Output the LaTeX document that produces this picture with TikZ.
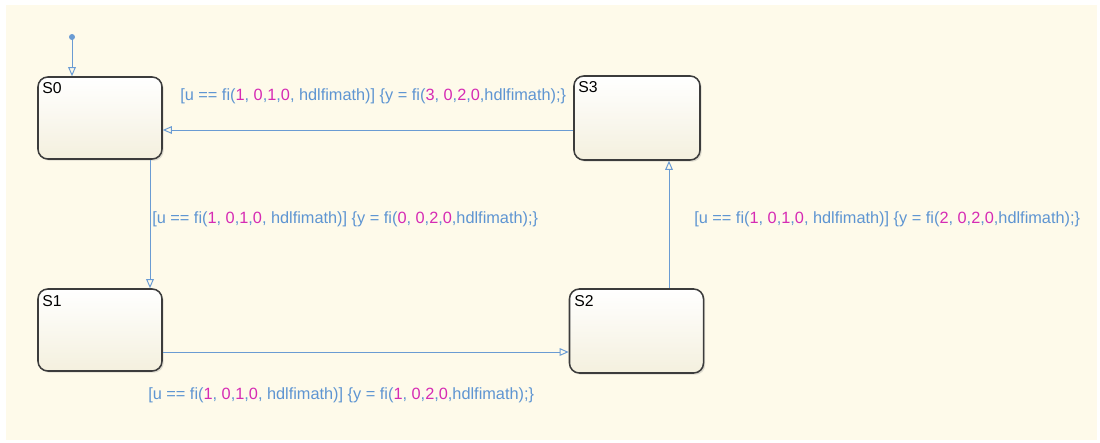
\documentclass[tikz,border=0pt]{standalone}
\usepackage{fontspec}
\setmainfont{Liberation Sans}
\usetikzlibrary{arrows.meta,shadows}
\definecolor{chartbg}{HTML}{FEFAEA}
\definecolor{statebot}{HTML}{F4F0DE}
\definecolor{statedraw}{HTML}{3C3C3C}
\definecolor{transcol}{HTML}{6A9BD3}
\definecolor{labcol}{HTML}{5E95D2}
\definecolor{numcol}{HTML}{D62BB4}
\newcommand{\mg}[1]{\textcolor{numcol}{#1}}

\begin{document}
\begin{tikzpicture}[x=0.025cm,y=-0.025cm,
  state/.style={draw=statedraw,line width=1.1pt,rounded corners=7pt,
    top color=white,bottom color=statebot,
    drop shadow={opacity=0.25,shadow xshift=1.2pt,shadow yshift=-1.2pt},
    inner sep=0pt},
  stname/.style={anchor=north west,inner sep=0pt,font=\fontsize{11.2}{13}\selectfont,text=black},
  trans/.style={draw=transcol,line width=0.7pt,-{Triangle[open,length=6.5pt,width=5.5pt]}},
  guard/.style={anchor=west,inner sep=0pt,text=labcol,font=\fontsize{11.6}{13}\selectfont}]
\fill[white] (0,0) rectangle (1100,442);
\fill[chartbg] (6,5) rectangle (1097,440);
\node[state,minimum width=3.1cm,minimum height=2.05cm] (s0) at (100,118) {};
\node[state,minimum width=3.1cm,minimum height=2.05cm] (s1) at (100,330) {};
\node[state,minimum width=3.35cm,minimum height=2.1cm] (s2) at (636.5,331) {};
\node[state,minimum width=3.15cm,minimum height=2.1cm] (s3) at (637,118) {};
\node[stname] (n0) at (42,82) {S0};
\node[stname] (n1) at (42,295) {S1};
\node[stname] (n2) at (574,295) {S2};
\node[stname] (n3) at (578,81) {S3};
\fill[transcol] (72,37) circle [radius=3];
\coordinate (dflt) at (72,37);
\coordinate (h03) at (0,130);
\coordinate (v01) at (150,0);
\coordinate (h12) at (0,352);
\coordinate (v23) at (669,0);
\draw[trans] (dflt) -- (dflt |- s0.north);
\draw[trans] (s3.west |- h03) -- (s0.east |- h03);
\draw[trans] (v01 |- s0.south) -- (v01 |- s1.north);
\draw[trans] (s1.east |- h12) -- (s2.west |- h12);
\draw[trans] (v23 |- s2.north) -- (v23 |- s3.south);
\node[guard] (g30) at (180,96) {[u == fi(\mg{1}, \mg{0},\mg{1},\mg{0}, hdlfimath)] \{y = fi(\mg{3}, \mg{0},\mg{2},\mg{0},hdlfimath);\}};
\node[guard] (g01) at (152,219) {[u == fi(\mg{1}, \mg{0},\mg{1},\mg{0}, hdlfimath)] \{y = fi(\mg{0}, \mg{0},\mg{2},\mg{0},hdlfimath);\}};
\node[guard] (g23) at (694,219) {[u == fi(\mg{1}, \mg{0},\mg{1},\mg{0}, hdlfimath)] \{y = fi(\mg{2}, \mg{0},\mg{2},\mg{0},hdlfimath);\}};
\node[guard] (g12) at (148,395) {[u == fi(\mg{1}, \mg{0},\mg{1},\mg{0}, hdlfimath)] \{y = fi(\mg{1}, \mg{0},\mg{2},\mg{0},hdlfimath);\}};
\end{tikzpicture}
\end{document}
